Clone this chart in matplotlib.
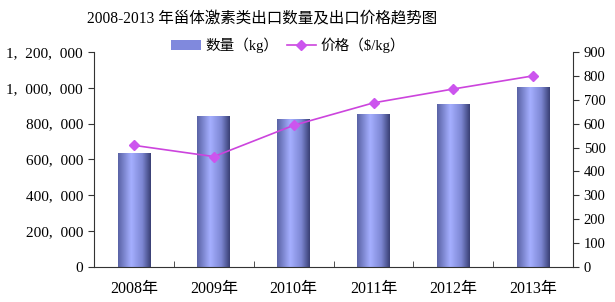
import matplotlib

matplotlib.use("Agg")
import matplotlib.pyplot as plt
import numpy as np
from matplotlib.colors import LinearSegmentedColormap
from matplotlib.patches import Patch
from matplotlib.lines import Line2D
from matplotlib.ticker import FuncFormatter, FixedLocator

plt.rcParams["font.family"] = ["Liberation Serif", "Noto Sans CJK SC", "DejaVu Sans"]

years = ["2008年", "2009年", "2010年", "2011年", "2012年", "2013年"]
quantity = [635000, 845000, 825000, 855000, 910000, 1003000]
price = [509, 462, 593, 687, 745, 800]

title = "2008-2013 年甾体激素类出口数量及出口价格趋势图"
qty_label = "数量（kg）"
price_label = "价格（$/kg）"

fig = plt.figure(figsize=(6.15, 3.02), dpi=100)
ax = fig.add_axes([0.153, 0.116, 0.779, 0.712])
ax2 = ax.twinx()

x = np.arange(len(years))
bar_w = 0.41
bars = ax.bar(x, quantity, width=bar_w, color="none", edgecolor="none", zorder=2)

# horizontal shading like the original's cylinder-ish bars
cmap = LinearSegmentedColormap.from_list(
    "bar", [(0.0, "#5a63a6"), (0.4, "#a5afff"), (0.75, "#7c86d2"), (1.0, "#3a4075")]
)
grad = np.linspace(0, 1, 64).reshape(1, -1)
for rect in bars:
    x0 = rect.get_x()
    im = ax.imshow(grad, cmap=cmap, aspect="auto", zorder=2,
                   extent=[x0, x0 + rect.get_width(), 0, rect.get_height()])
    im.set_clip_path(rect)

ax.set_xlim(-0.5, len(years) - 0.5)
ax.set_ylim(0, 1200000)
ax.yaxis.set_major_locator(FixedLocator(np.arange(0, 1200001, 200000)))
ax.yaxis.set_major_formatter(FuncFormatter(lambda v, p: f"{int(v):,}".replace(",", ",  ")))

ax.set_xticks(x)
ax.set_xticklabels(years)
ax.set_xticks(np.arange(0.5, len(years) - 1, 1), minor=True)
ax.tick_params(axis="x", which="major", length=0, pad=10, labelsize=11.5)
ax.tick_params(axis="x", which="minor", direction="in", length=4, color="#333333")
ax.tick_params(axis="y", direction="out", length=4, labelsize=11, color="#333333", pad=4)

ax2.plot(x, price, color="#cc44dd", linewidth=1.2, marker="D", markersize=5,
         markerfacecolor="#cc55ee", markeredgecolor="#cc55ee", zorder=3)
ax2.set_ylim(0, 900)
ax2.set_yticks(np.arange(0, 901, 100))
ax2.tick_params(axis="y", direction="out", length=4, labelsize=10.5, color="#333333")

for a in (ax, ax2):
    a.spines["top"].set_visible(False)
    for s in ("left", "right", "bottom"):
        a.spines[s].set_color("#333333")
ax.spines["right"].set_visible(False)
ax2.spines["left"].set_visible(False)
ax2.spines["bottom"].set_visible(False)

handles = [
    Patch(facecolor="#8089dd", edgecolor="none"),
    Line2D([], [], color="#cc44dd", linewidth=1.2, marker="D", markersize=5,
           markerfacecolor="#cc55ee", markeredgecolor="#cc55ee"),
]
ax2.legend(handles, [qty_label, price_label], loc="center", bbox_to_anchor=(0.405, 1.032),
           ncol=2, frameon=False, fontsize=10.5, handlelength=2.0, columnspacing=0.6,
           handletextpad=0.3, borderpad=0.2)

fig.text(0.426, 0.934, title, ha="center", va="center", fontsize=11.2)

fig.savefig("out.png", dpi=100)
plt.close(fig)
